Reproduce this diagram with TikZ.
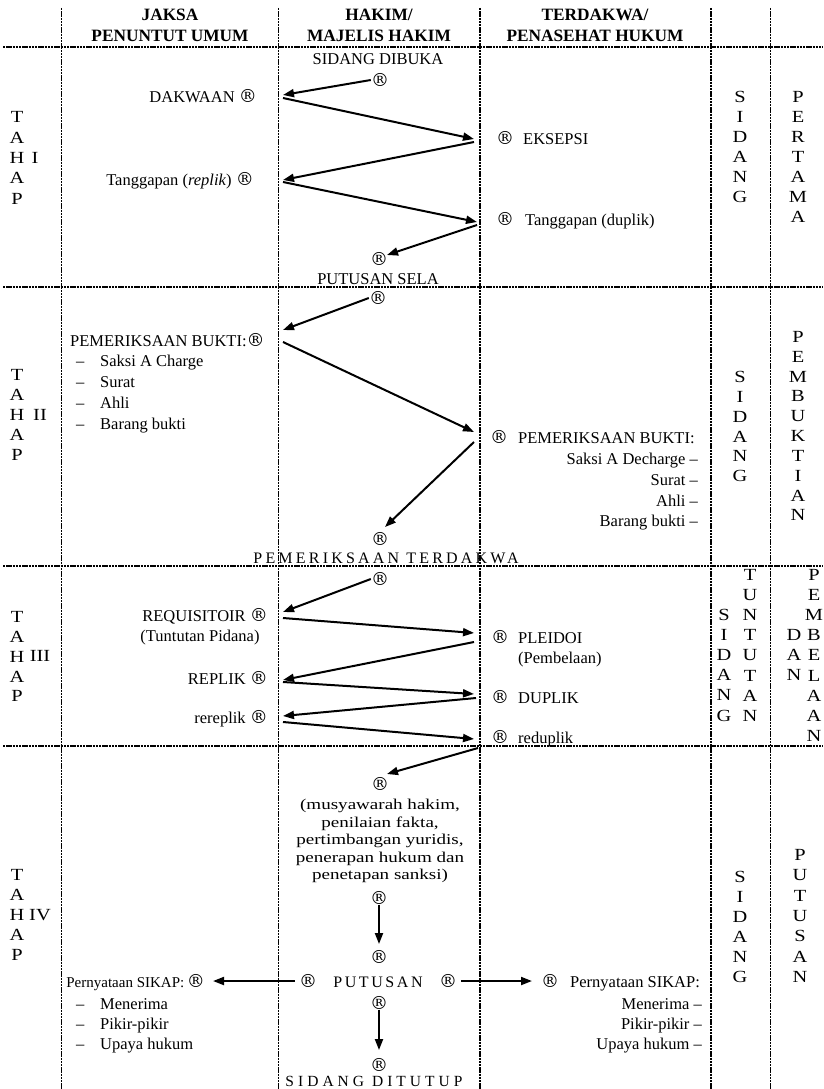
\documentclass[tikz,border=0pt]{standalone}
\usepackage{fontspec}
\setmainfont{Liberation Serif}
\newfontfamily\widefont[FakeStretch=1.2]{Liberation Serif}
\newfontfamily\parafont[FakeStretch=1.27]{Liberation Serif}
\newfontfamily\regfont{DejaVu Serif}
\newcommand\regmark{{\regfont\fontsize{18}{18}\selectfont ®}}
\usetikzlibrary{arrows.meta}
\begin{document}
\begin{tikzpicture}[x=1pt,y=-1pt,
  every node/.style={inner sep=0pt, font=\fontsize{16.5}{20}\selectfont},
  gridline/.style={line width=1.1pt, dash pattern=on 2.4pt off 0.8pt},
  flow/.style={line width=2pt, -{Triangle[length=11pt,width=8pt]}},
  reg/.style={anchor=center},
  hdr/.style={font=\bfseries\fontsize{17.3}{20}\selectfont, anchor=base},
  lft/.style={anchor=base east},
  rgt/.style={anchor=base west},
  ltr/.style={anchor=center, font=\widefont\fontsize{17}{20}\selectfont},
  spaced/.style={font=\fontsize{16}{19}\selectfont\addfontfeature{LetterSpace=20}, anchor=base},
]
\useasboundingbox (0,0) rectangle (823,1089);
\fill[white] (0,0) rectangle (823,1089);
% grid
\foreach \gx in {61.5,278.5,480,711,770.5} \draw[gridline] (\gx,8) -- (\gx,1089);
\foreach \gy in {47,287,566,746} \draw[gridline] (3,\gy) -- (823,\gy);
% header
\node[hdr] (h1a) at (170,21) {JAKSA};
\node[hdr] (h1b) at (170,42) {PENUNTUT UMUM};
\node[hdr] (h2a) at (379,21) {HAKIM/};
\node[hdr] (h2b) at (379,42) {MAJELIS HAKIM};
\node[hdr] (h3a) at (595,21) {TERDAKWA/};
\node[hdr] (h3b) at (595,42) {PENASEHAT HUKUM};

% ---------- TAHAP I ----------
\node[anchor=base] (sdb) at (378,65) {SIDANG DIBUKA};
\node[reg] (r1) at (380,80) {\regmark};
\node[lft] (dak) at (257,103) {DAKWAAN \regmark};
\node[rgt] (eks) at (496,144) {\makebox[27pt][l]{\regmark}EKSEPSI};
\node[lft] (rep) at (254,185) {Tanggapan (\textit{replik}) \regmark};
\node[rgt] (dup) at (496,225) {\makebox[29pt][l]{\regmark}Tanggapan (duplik)};
\node[reg] (r2) at (379,259) {\regmark};
\node[anchor=base] (ps) at (378,284) {PUTUSAN SELA};
\coordinate (c1e) at (283,95);
\coordinate (c2s) at (283,98);  \coordinate (c2e) at (474,139);
\coordinate (c3s) at (474,142); \coordinate (c3e) at (283,180);
\coordinate (c4s) at (283,182); \coordinate (c4e) at (477,222);
\coordinate (c5s) at (477,225); \coordinate (c5e) at (387,255);
\draw[flow] (r1.west) -- (c1e);
\draw[flow] (c2s) -- (c2e);
\draw[flow] (c3s) -- (c3e);
\draw[flow] (c4s) -- (c4e);
\draw[flow] (c5s) -- (c5e);
\foreach \l [count=\i from 0] in {T,A,H,A,P} \node[ltr, name=tI\i] at (17,{117+20.4*\i}) {\l};
\node[ltr] (nI) at (35,158) {I};
\foreach \l [count=\i from 0] in {S,I,D,A,N,G} \node[ltr, name=sI\i] at (740,{97+20*\i}) {\l};
\foreach \l [count=\i from 0] in {P,E,R,T,A,M,A} \node[ltr, name=pI\i] at (798,{97+20*\i}) {\l};

% ---------- TAHAP II ----------
\node[reg] (r3) at (378,298) {\regmark};
\node[rgt] (pb) at (70,346) {PEMERIKSAAN BUKTI:\regmark};
\node[rgt] (pb1) at (76,366) {\makebox[24pt][l]{–}Saksi A Charge};
\node[rgt] (pb2) at (76,387) {\makebox[24pt][l]{–}Surat};
\node[rgt] (pb3) at (76,408) {\makebox[24pt][l]{–}Ahli};
\node[rgt] (pb4) at (76,429) {\makebox[24pt][l]{–}Barang bukti};
\node[rgt] (pbr) at (490,443) {\makebox[28pt][l]{\regmark}PEMERIKSAAN BUKTI:};
\node[lft] (pbr1) at (698,464) {Saksi A Decharge –};
\node[lft] (pbr2) at (698,485) {Surat –};
\node[lft] (pbr3) at (698,506) {Ahli –};
\node[lft] (pbr4) at (698,526) {Barang bukti –};
\node[reg] (r4) at (380,539) {\regmark};
\node[spaced] (pt) at (386,563) {PEMERIKSAAN TERDAKWA};
\coordinate (c6e) at (283,330);
\coordinate (c7s) at (283,342); \coordinate (c7e) at (474,432);
\coordinate (c8s) at (474,442); \coordinate (c8e) at (385,527);
\draw[flow] (r3.west) -- (c6e);
\draw[flow] (c7s) -- (c7e);
\draw[flow] (c8s) -- (c8e);
\foreach \l [count=\i from 0] in {T,A,H,A,P} \node[ltr, name=tII\i] at (17,{375+20*\i}) {\l};
\node[ltr] (nII) at (40,415) {II};
\foreach \l [count=\i from 0] in {S,I,D,A,N,G} \node[ltr, name=sII\i] at (740,{377+19.8*\i}) {\l};
\foreach \l [count=\i from 0] in {P,E,M,B,U,K,T,I,A,N} \node[ltr, name=pII\i] at (798,{337+19.8*\i}) {\l};

% ---------- TAHAP III ----------
\node[reg] (r5) at (380,579) {\regmark};
\node[lft] (req) at (268,621) {REQUISITOIR \regmark};
\node[anchor=base] (tp) at (200,641) {(Tuntutan Pidana)};
\node[rgt] (ple) at (491,643) {\makebox[27pt][l]{\regmark}PLEIDOI};
\node[rgt] (pem) at (518,663) {(Pembelaan)};
\node[lft] (rpl) at (268,684) {REPLIK \regmark};
\node[rgt] (dpl) at (491,703) {\makebox[27pt][l]{\regmark}DUPLIK};
\node[lft] (rrp) at (268,723) {rereplik \regmark};
\node[rgt] (rdp) at (491,743) {\makebox[27pt][l]{\regmark}reduplik};
\coordinate (c9e) at (283,612);
\coordinate (c10s) at (283,618); \coordinate (c10e) at (474,633);
\coordinate (c11s) at (474,642); \coordinate (c11e) at (283,680);
\coordinate (c12s) at (283,682); \coordinate (c12e) at (474,694);
\coordinate (c13s) at (476,698); \coordinate (c13e) at (283,716);
\coordinate (c14s) at (283,722); \coordinate (c14e) at (474,739);
\draw[flow] (r5.west) -- (c9e);
\draw[flow] (c10s) -- (c10e);
\draw[flow] (c11s) -- (c11e);
\draw[flow] (c12s) -- (c12e);
\draw[flow] (c13s) -- (c13e);
\draw[flow] (c14s) -- (c14e);
\foreach \l [count=\i from 0] in {T,A,H,A,P} \node[ltr, name=tIII\i] at (17,{617+19.8*\i}) {\l};
\node[ltr] (nIII) at (40,656) {III};
\foreach \l [count=\i from 0] in {S,I,D,A,N,G} \node[ltr, name=sIII\i] at (724,{615+20.1*\i}) {\l};
\foreach \l [count=\i from 0] in {T,U,N,T,U,T,A,N} \node[ltr, name=tuIII\i] at (750,{575+20.1*\i}) {\l};
\foreach \l [count=\i from 0] in {D,A,N} \node[ltr, name=dIII\i] at (794,{635+20.1*\i}) {\l};
\foreach \l [count=\i from 0] in {P,E,M,B,E,L,A,A,N} \node[ltr, name=pIII\i] at (814,{575+20.1*\i}) {\l};

% ---------- TAHAP IV ----------
\coordinate (c15s) at (478,748); \coordinate (c15e) at (387,774);
\draw[flow] (c15s) -- (c15e);
\node[reg] (r6) at (380,784) {\regmark};
\node[align=center, font=\parafont\fontsize{15}{17.6}\selectfont] (para) at (380,841)
  {(musyawarah hakim,\\penilaian fakta,\\pertimbangan yuridis,\\penerapan hukum dan\\penetapan sanksi)};
\node[reg] (r7) at (379,898) {\regmark};
\node[reg] (r8) at (379,957) {\regmark};
\coordinate (c16e) at (379,944);
\draw[flow] (r7.south) -- (c16e);
\node (pL) at (308,981) {\regmark};
\node[spaced, font=\fontsize{16}{19}\selectfont\addfontfeature{LetterSpace=16}] (put) at (378,987) {PUTUSAN};
\node (pR) at (448,981) {\regmark};
\node[lft, font=\fontsize{15}{20}\selectfont] (psl) at (205,987) {Pernyataan SIKAP:\,\regmark};
\node[rgt] (psl1) at (76,1009) {\makebox[24pt][l]{–}Menerima};
\node[rgt] (psl2) at (76,1029) {\makebox[24pt][l]{–}Pikir-pikir};
\node[rgt] (psl3) at (76,1049) {\makebox[24pt][l]{–}Upaya hukum};
\node[rgt] (psr) at (541,987) {\makebox[29pt][l]{\regmark}Pernyataan SIKAP:};
\node[lft] (psr1) at (702,1009) {Menerima –};
\node[lft] (psr2) at (702,1029) {Pikir-pikir –};
\node[lft] (psr3) at (702,1049) {Upaya hukum –};
\coordinate (c17e) at (213,981);
\coordinate (c18e) at (532,981);
\draw[flow, shorten <=4pt] (pL.west) -- (c17e);
\draw[flow, shorten <=4pt] (pR.east) -- (c18e);
\node[reg] (r9) at (379,1003) {\regmark};
\node[reg] (r10) at (379,1065) {\regmark};
\coordinate (c19e) at (379,1050);
\draw[flow] (r9.south) -- (c19e);
\node[spaced, font=\fontsize{15.5}{19}\selectfont\addfontfeature{LetterSpace=26}] (sdt) at (374,1086) {SIDANG DITUTUP};
\foreach \l [count=\i from 0] in {T,A,H,A,P} \node[ltr, name=tIV\i] at (17,{875+20*\i}) {\l};
\node[ltr] (nIV) at (40,915) {IV};
\foreach \l [count=\i from 0] in {S,I,D,A,N,G} \node[ltr, name=sIV\i] at (740,{877+20*\i}) {\l};
\foreach \l [count=\i from 0] in {P,U,T,U,S,A,N} \node[ltr, name=pIV\i] at (800,{855+20.3*\i}) {\l};
\end{tikzpicture}
\end{document}
